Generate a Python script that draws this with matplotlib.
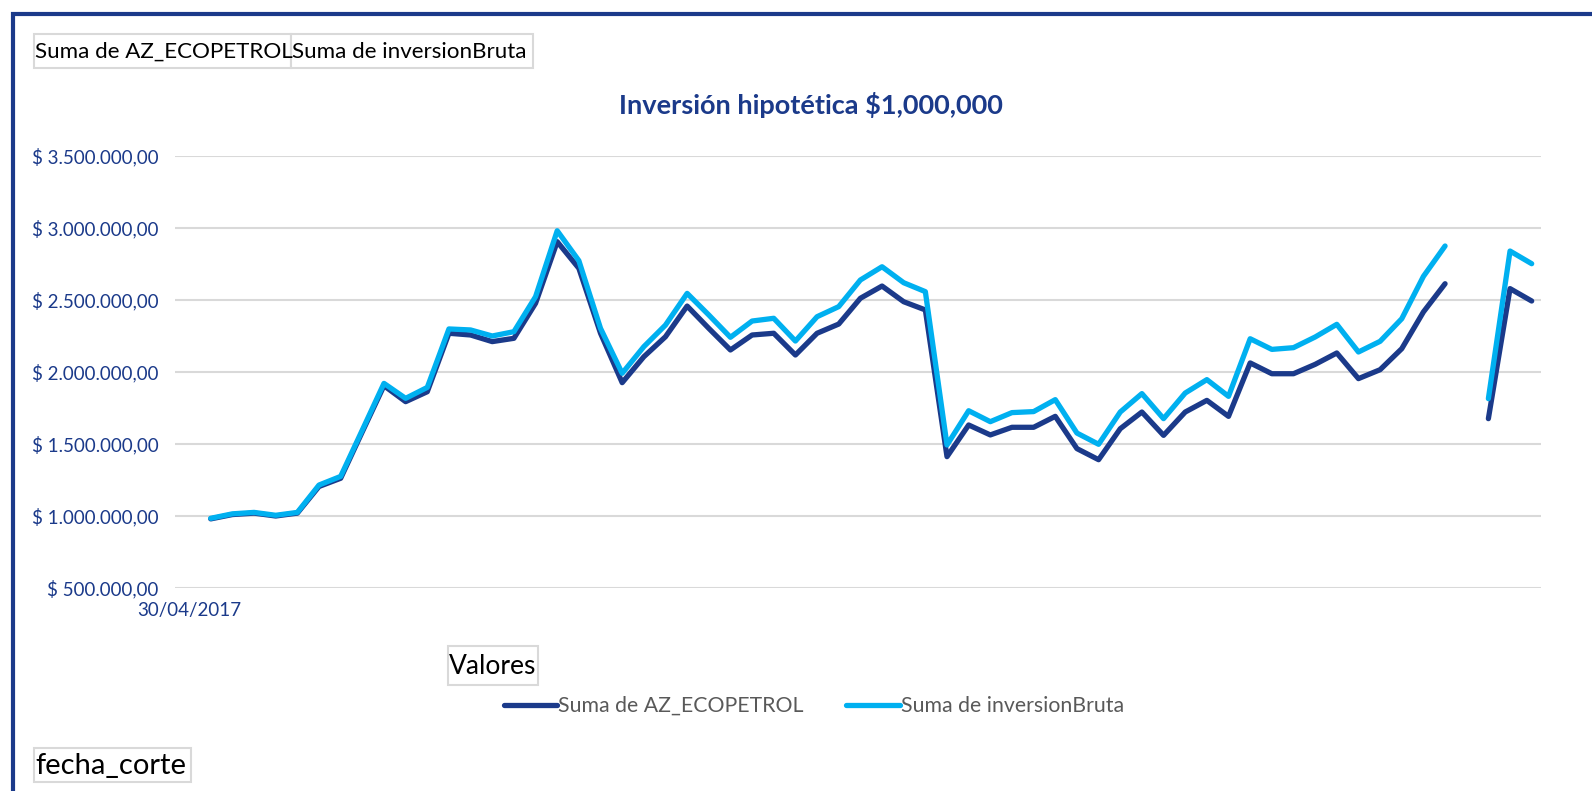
import numpy as np
import matplotlib
matplotlib.use("Agg")
from matplotlib import pyplot as plt
from matplotlib.patches import Rectangle
from matplotlib.lines import Line2D
from matplotlib.ticker import FuncFormatter

# ============ data (millones de pesos) ============
tick_labels = ["30/04/2017"]

az_ecopetrol = [np.nan,
                0.980, 1.010, 1.020, 1.000, 1.020, 1.205, 1.262, 1.585, 1.905, 1.794,
                1.863, 2.269, 2.257, 2.211, 2.234, 2.477, 2.905, 2.720, 2.269, 1.926,
                2.106, 2.245, 2.458, 2.303, 2.153, 2.257, 2.269, 2.118, 2.269, 2.333,
                2.512, 2.597, 2.488, 2.431, 1.412, 1.632, 1.563, 1.616, 1.616, 1.692,
                1.468, 1.391, 1.606, 1.722, 1.560, 1.722, 1.803, 1.692, 2.063, 1.988,
                1.988, 2.053, 2.132, 1.954, 2.016, 2.162, 2.417, 2.613, np.nan, 1.676,
                2.579, 2.493]

inversion_bruta = [np.nan,
                   0.984, 1.015, 1.025, 1.005, 1.025, 1.215, 1.275, 1.597, 1.921, 1.817,
                   1.893, 2.299, 2.292, 2.250, 2.280, 2.523, 2.981, 2.773, 2.303, 1.991,
                   2.176, 2.326, 2.546, 2.396, 2.241, 2.354, 2.373, 2.215, 2.384, 2.454,
                   2.639, 2.731, 2.620, 2.558, 1.493, 1.731, 1.655, 1.718, 1.725, 1.808,
                   1.576, 1.498, 1.722, 1.850, 1.676, 1.854, 1.947, 1.831, 2.231, 2.157,
                   2.169, 2.243, 2.331, 2.139, 2.213, 2.370, 2.664, 2.875, np.nan, 1.815,
                   2.840, 2.752]

y_ticks = [500000, 1000000, 1500000, 2000000, 2500000, 3000000, 3500000]

# ============ style ==================================================
NAVY = '#1B3A8A'
LIGHT = '#00B0F0'
GRID = '#D9D9D9'
W, H = 1592, 791

plt.rcParams['font.family'] = ['Lato', 'DejaVu Sans']

fig = plt.figure(figsize=(W / 100, H / 100), dpi=100)


def fx(x):
    return x / W


def fy(y):
    return 1 - y / H


ax = fig.add_axes([fx(175), fy(588), (1541 - 175) / W, (588 - 156) / H])

x = np.arange(len(az_ecopetrol))
az = np.array(az_ecopetrol) * 1e6
inv = np.array(inversion_bruta) * 1e6

ax.plot(x, az, color=NAVY, lw=3.8, solid_capstyle='round', zorder=3)
ax.plot(x, inv, color=LIGHT, lw=3.8, solid_capstyle='round', zorder=4)

ax.set_xlim(-0.65, 62.43)
ax.set_ylim(500000, 3500000)
ax.set_yticks(y_ticks)
ax.yaxis.set_major_formatter(FuncFormatter(
    lambda v, p: '$ ' + f'{v:,.2f}'.replace(',', 'X').replace('.', ',').replace('X', '.')))
ax.set_xticks([0])
ax.set_xticklabels(tick_labels)
ax.grid(axis='y', color=GRID, lw=1.5, zorder=0)
ax.tick_params(axis='both', length=0, colors=NAVY, labelsize=13.5)
ax.tick_params(axis='y', pad=12)
ax.tick_params(axis='x', pad=10)
for s in ax.spines.values():
    s.set_visible(False)

# titulo
fig.text(fx(811), fy(105), 'Inversión hipotética $1,000,000', color=NAVY,
         fontsize=19.5, fontweight='bold', ha='center', va='center')

# marco exterior
fig.patches.append(Rectangle((fx(13), fy(900)), fx(1700), (900 - 14) / H,
                             transform=fig.transFigure, fill=False,
                             edgecolor=NAVY, lw=3, zorder=10))


# botones de campo de la tabla dinamica
def field_button(x0, x1, y0, y1, label, size):
    fig.patches.append(Rectangle((fx(x0), fy(y1)), (x1 - x0) / W, (y1 - y0) / H,
                                 transform=fig.transFigure, facecolor='white',
                                 edgecolor=GRID, lw=1.5))
    fig.text(fx(x0 + 1), fy((y0 + y1) / 2 + 1), label, fontsize=size,
             color='black', ha='left', va='center')


field_button(34, 291, 34, 68, 'Suma de AZ_ECOPETROL', 16.1)
field_button(291, 533, 34, 68, 'Suma de inversionBruta', 16.1)
field_button(448, 538, 646, 685, 'Valores', 19)
field_button(34, 191, 748, 782, 'fecha_corte', 21)

# leyenda
handles = [Line2D([], [], color=NAVY, lw=3.8, solid_capstyle='round'),
           Line2D([], [], color=LIGHT, lw=3.8, solid_capstyle='round')]
leg = fig.legend(handles, ['Suma de AZ_ECOPETROL', 'Suma de inversionBruta'],
                 loc='center', bbox_to_anchor=(fx(814), fy(706)), ncol=2,
                 frameon=False, fontsize=15.3, handlelength=2.5,
                 handletextpad=0.05, columnspacing=2.0)
for t in leg.get_texts():
    t.set_color('#595959')

fig.savefig('out.png', dpi=100, facecolor='white')
